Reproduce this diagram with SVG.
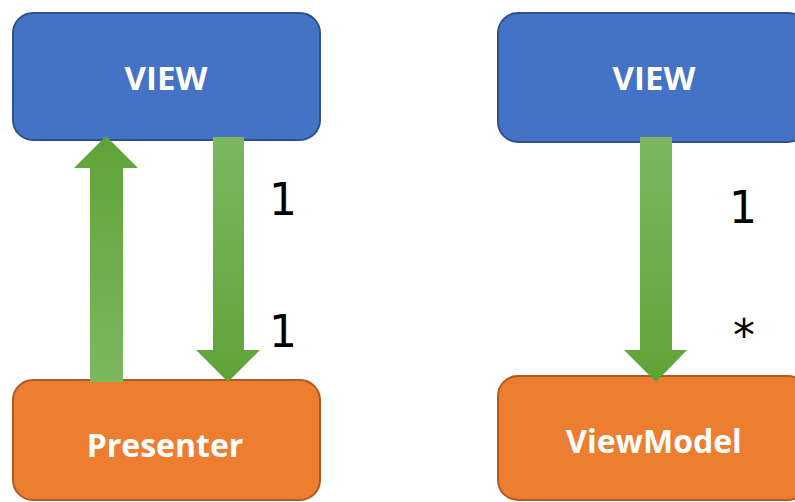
<svg xmlns="http://www.w3.org/2000/svg" width="795" height="502" viewBox="0 0 795 502">
<style>
.blue{fill:#4472C4;stroke:#2F528F;stroke-width:2}
.orange{fill:#ED7D31;stroke:#AE5A21;stroke-width:2}
.lbl{font-family:"Open Sans","Liberation Sans",sans-serif;font-weight:bold;fill:#fff;text-anchor:middle}
.num{font-family:"DejaVu Sans","Liberation Sans",sans-serif;font-size:44px;fill:#000;text-anchor:middle}
</style>
<defs>
<linearGradient id="gUp" x1="0" y1="0" x2="0" y2="1">
<stop offset="0" stop-color="#5EA337"/>
<stop offset="1" stop-color="#7DB760"/>
</linearGradient>
<linearGradient id="gDown" x1="0" y1="0" x2="0" y2="1">
<stop offset="0" stop-color="#7DB760"/>
<stop offset="1" stop-color="#5EA337"/>
</linearGradient>
</defs>
<rect width="795" height="502" fill="#fff"/>
<g id="view-left"><rect class="blue" x="13" y="13" width="307" height="127" rx="20"/><text class="lbl" x="166" y="90" font-size="33">VIEW</text></g>
<g id="presenter"><rect class="orange" x="13" y="380" width="307" height="120" rx="20"/><text class="lbl" x="165" y="457" font-size="32">Presenter</text></g>
<g id="view-right"><rect class="blue" x="498" y="13" width="310" height="129" rx="20"/><text class="lbl" x="654" y="90" font-size="33">VIEW</text></g>
<g id="viewmodel"><rect class="orange" x="498" y="376" width="310" height="124" rx="20"/><text class="lbl" x="654" y="453" font-size="32">ViewModel</text></g>
<g id="connectors">
<polygon fill="url(#gUp)" points="106,136 138,168 123,168 123,382 90,382 90,168 74,168"/>
<polygon fill="url(#gDown)" points="213,137 244,137 244,350 260,350 228,382 196,350 213,350"/>
<polygon fill="url(#gDown)" points="640,137 672,137 672,350 687,350 656,382 624,350 640,350"/>
</g>
<g id="labels">
<text class="num" x="283" y="215">1</text>
<text class="num" x="283" y="347">1</text>
<text class="num" x="743" y="223">1</text>
<text class="num" x="744" y="351">*</text>
</g>
</svg>
